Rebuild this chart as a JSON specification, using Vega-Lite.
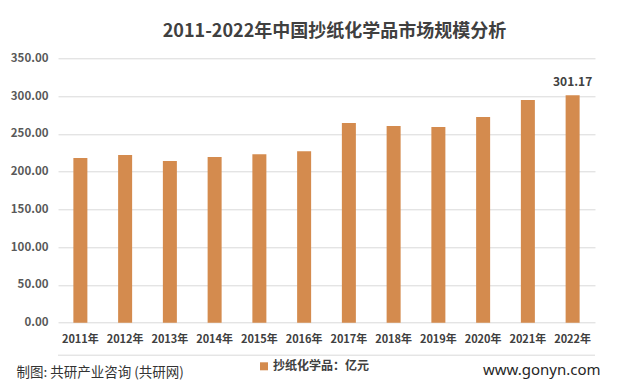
{
  "$schema": "https://vega.github.io/schema/vega-lite/v6.json",
  "width": 537,
  "height": 264.4,
  "autosize": {"type": "none"},
  "padding": {"left": 58, "top": 58.3, "right": 24, "bottom": 68.3},
  "background": "white",
  "title": {
    "text": "2011-2022年中国抄纸化学品市场规模分析",
    "fontSize": 18,
    "font": "Noto Sans CJK SC",
    "fontWeight": "bold",
    "color": "#404040",
    "anchor": "middle",
    "offset": 11,
    "dx": 8
  },
  "data": {
    "values": [
      {"year": "2011年", "value": 218.0, "series": "抄纸化学品：亿元"},
      {"year": "2012年", "value": 222.0, "series": "抄纸化学品：亿元"},
      {"year": "2013年", "value": 214.1, "series": "抄纸化学品：亿元"},
      {"year": "2014年", "value": 219.4, "series": "抄纸化学品：亿元"},
      {"year": "2015年", "value": 222.9, "series": "抄纸化学品：亿元"},
      {"year": "2016年", "value": 226.9, "series": "抄纸化学品：亿元"},
      {"year": "2017年", "value": 264.3, "series": "抄纸化学品：亿元"},
      {"year": "2018年", "value": 260.3, "series": "抄纸化学品：亿元"},
      {"year": "2019年", "value": 259.0, "series": "抄纸化学品：亿元"},
      {"year": "2020年", "value": 272.2, "series": "抄纸化学品：亿元"},
      {"year": "2021年", "value": 294.7, "series": "抄纸化学品：亿元"},
      {"year": "2022年", "value": 301.17, "series": "抄纸化学品：亿元"}
    ]
  },
  "resolve": {"axis": {"y": "independent", "x": "independent"}},
  "layer": [
    {
      "mark": {"type": "bar"},
      "encoding": {
        "x": {
          "field": "year",
          "type": "nominal",
          "sort": null,
          "scale": {"paddingInner": 0.687, "paddingOuter": 0.3435},
          "axis": {
            "title": "www.gonyn.com",
            "titleFont": "Noto Sans",
            "titleFontSize": 15,
            "titleFontWeight": "normal",
            "titleColor": "#262626",
            "titleX": 542,
            "titleY": 47.3,
            "titleAlign": "right",
            "titleBaseline": "middle",
            "titleAnchor": null,
            "labelAngle": 0,
            "labelFont": "Noto Sans CJK SC",
            "labelFontSize": 11,
            "labelFontWeight": "bold",
            "labelColor": "#404040",
            "labelPadding": 11,
            "ticks": false,
            "domain": false,
            "grid": false
          }
        },
        "y": {
          "field": "value",
          "type": "quantitative",
          "scale": {"domain": [0, 350], "nice": false, "zero": true},
          "axis": {
            "values": [0, 50, 100, 150, 200, 250, 300, 350],
            "format": ".2f",
            "title": "制图: 共研产业咨询 (共研网)",
            "titleAngle": 0,
            "titleX": -42,
            "titleY": 313.7,
            "titleAlign": "left",
            "titleBaseline": "middle",
            "titleAnchor": null,
            "titleFont": "Noto Sans CJK SC",
            "titleFontSize": 13.5,
            "titleFontWeight": "normal",
            "titleColor": "#333333",
            "labelFont": "Noto Sans CJK SC",
            "labelFontSize": 11.5,
            "labelFontWeight": "bold",
            "labelColor": "#595959",
            "labelPadding": 10,
            "ticks": false,
            "domain": false,
            "grid": true,
            "gridColor": "#d9d9d9",
            "gridWidth": 1
          }
        },
        "color": {
          "field": "series",
          "type": "nominal",
          "scale": {"range": ["#D48B4E"]},
          "legend": {
            "title": null,
            "orient": "none",
            "legendX": 200,
            "legendY": 302,
            "symbolType": "square",
            "symbolSize": 64,
            "symbolStrokeWidth": 0,
            "labelFont": "Noto Sans CJK SC",
            "labelFontSize": 12,
            "labelFontWeight": "bold",
            "labelColor": "#404040",
            "labelOffset": 3,
            "padding": 0
          }
        }
      }
    },
    {
      "transform": [{"filter": "datum.year == '2022年'"}],
      "mark": {
        "type": "text",
        "baseline": "bottom",
        "dy": -6,
        "font": "Noto Sans CJK SC",
        "fontSize": 12,
        "fontWeight": "bold",
        "color": "#404040"
      },
      "encoding": {
        "x": {"field": "year", "type": "nominal", "sort": null, "axis": null},
        "y": {"field": "value", "type": "quantitative", "axis": null},
        "text": {"field": "value", "type": "quantitative", "format": ".2f"}
      }
    },
    {
      "data": {"values": [{"level": -43}]},
      "mark": {"type": "rule", "color": "#d9d9d9", "strokeWidth": 1, "clip": false},
      "encoding": {
        "y": {"field": "level", "type": "quantitative", "axis": null}
      }
    }
  ],
  "config": {
    "view": {"stroke": null}
  }
}
